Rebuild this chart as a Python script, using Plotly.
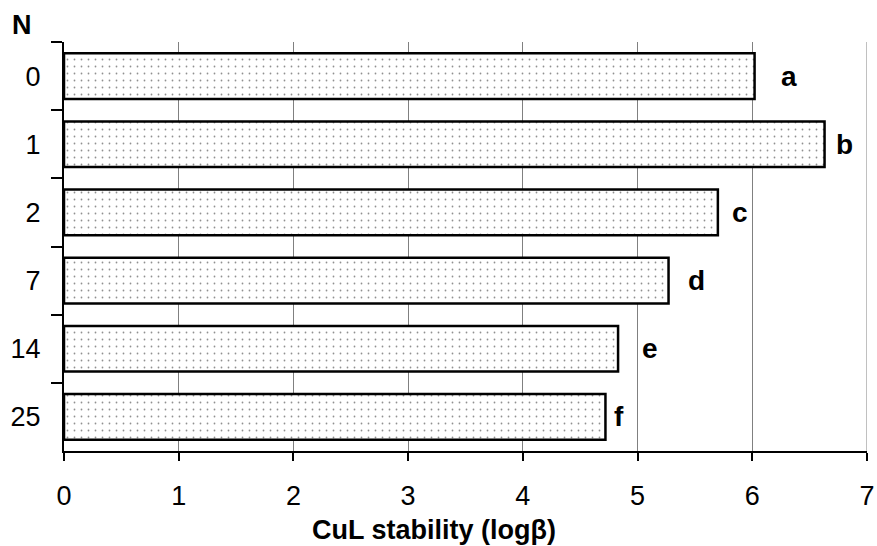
import plotly.graph_objects as go

categories = ["0", "1", "2", "7", "14", "25"]
values = [6.02, 6.63, 5.70, 5.27, 4.83, 4.72]
letters = ["a", "b", "c", "d", "e", "f"]
letter_x = [6.32, 6.80, 5.89, 5.51, 5.11, 4.84]
x_ticks = [0, 1, 2, 3, 4, 5, 6, 7]

FONT = "Liberation Sans, Arial, sans-serif"

fig = go.Figure()
fig.add_trace(go.Bar(
    y=categories, x=values, orientation="h",
    marker=dict(
        color="white",
        line=dict(color="black", width=2.5),
        pattern=dict(shape=".", fgcolor="#222222", bgcolor="white", size=7, solidity=0.05),
    ),
    showlegend=False,
))

# right-edge gridline at the last tick
fig.add_shape(type="line", xref="x", yref="paper", x0=x_ticks[-1], x1=x_ticks[-1], y0=0, y1=1,
              line=dict(color="#808080", width=1), layer="below")

for i, (lx, lt) in enumerate(zip(letter_x, letters)):
    fig.add_annotation(x=lx, y=i, text=f"<b>{lt}</b>", showarrow=False,
                       font=dict(family=FONT, size=28, color="black"))

fig.add_annotation(xref="paper", yref="paper", x=-0.052, y=1.042, text="<b>N</b>",
                   showarrow=False, font=dict(family=FONT, size=27, color="black"),
                   xanchor="center", yanchor="middle")

fig.add_annotation(xref="paper", yref="paper", x=0.461, y=-0.193,
                   text="<b>CuL stability (logβ)</b>", showarrow=False,
                   font=dict(family=FONT, size=27, color="black"),
                   xanchor="center", yanchor="middle")

fig.update_layout(
    width=877, height=546,
    margin=dict(l=64, r=10, t=42, b=95),
    paper_bgcolor="white", plot_bgcolor="white",
    bargap=0.33,
    font=dict(family=FONT, size=27, color="black"),
    xaxis=dict(
        range=[0, 7], tickvals=x_ticks, showgrid=True, gridcolor="#808080", gridwidth=1,
        showline=True, linecolor="black", linewidth=2, zeroline=False,
        ticks="outside", ticklen=8, tickwidth=2, tickcolor="black",
        ticklabelstandoff=12, automargin=False,
    ),
    yaxis=dict(
        type="category", categoryorder="array", categoryarray=categories,
        range=[5.5, -0.5], tickson="boundaries",
        showline=True, linecolor="black", linewidth=2, showgrid=False,
        ticks="outside", ticklen=11, tickwidth=2, tickcolor="black",
        ticklabelstandoff=16, automargin=False,
    ),
)

fig.write_html("out.html", config={"displayModeBar": False},
               post_script="document.body.style.margin='0';document.body.style.overflow='hidden';")
